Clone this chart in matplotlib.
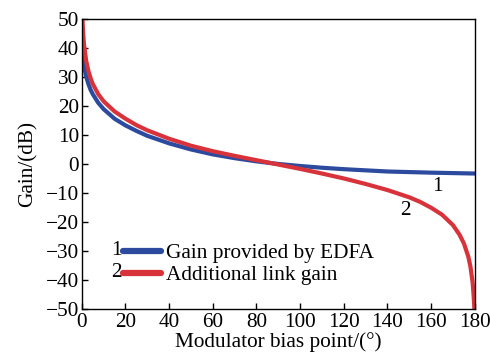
import matplotlib
matplotlib.use("Agg")
import matplotlib.pyplot as plt

plt.rcParams['font.family'] = ['Liberation Serif', 'DejaVu Serif']
plt.rcParams['mathtext.fontset'] = 'stix'

# values
bias_red = [0.3, 0.6, 1, 2, 3, 4, 5, 7.5, 10, 15, 20, 25, 30, 40, 50, 60, 70, 80, 90,
            100, 110, 120, 130, 140, 150, 155, 160, 165, 170, 173, 175, 177, 178, 179,
            179.5, 179.8]
link_gain = [50, 45, 41, 35.5, 32, 29.5, 27.5, 24, 21.5, 18, 15.5, 13.3, 11.5, 8.6, 6.2,
             4.3, 2.7, 1.2, -0.3, -1.8, -3.4, -5.1, -7.0, -9.1, -11.6, -13.2, -15.2,
             -17.6, -21.2, -24.5, -27.5, -32, -35.5, -41, -46, -50]

bias_blue = [0.3, 0.6, 1, 2, 3, 4, 5, 7.5, 10, 15, 20, 25, 30, 40, 50, 60, 70, 80, 90,
             100, 110, 120, 130, 140, 150, 160, 170, 180]
edfa_gain = [38, 35.5, 33.5, 30, 27.5, 25.5, 24, 21, 18.8, 15.5, 13.2, 11.3, 9.6, 7.0,
             4.9, 3.2, 1.9, 0.8, -0.1, -0.8, -1.4, -1.9, -2.3, -2.7, -2.9, -3.1, -3.25,
             -3.4]

xticks = list(range(0, 181, 20))
yticks = list(range(-50, 51, 10))

blue = '#2c4b9f'
red = '#d8333b'
fs = 15.3

fig = plt.figure(figsize=(4.9, 3.56), dpi=100)
ax = fig.add_axes([0.167, 0.133, 0.802, 0.8145])

l1, = ax.plot(bias_blue, edfa_gain, color=blue, lw=3.0, solid_capstyle='round')
l2, = ax.plot(bias_red, link_gain, color=red, lw=3.0, solid_capstyle='round')

ax.set_xlim(0, 180)
ax.set_ylim(-50, 50)
ax.set_xticks(xticks)
ax.set_yticks(yticks)
ax.set_yticklabels([str(v).replace('-', '\u2212') for v in yticks])
ax.tick_params(direction='in', length=4, width=1, labelsize=fs, pad=2,
               top=False, right=False)
ax.tick_params(axis='x', pad=3)
for s in ax.spines.values():
    s.set_linewidth(1)

ax.set_xlabel('Modulator bias point/(°)', fontsize=fs, labelpad=0)
ax.set_ylabel('Gain/(dB)', fontsize=fs, labelpad=6)

leg = ax.legend([l1, l2], ['Gain provided by EDFA', 'Additional link gain'],
                loc='upper left', bbox_to_anchor=(0.105, 0.225), frameon=False,
                fontsize=fs, handlelength=1.8, handletextpad=0.2,
                labelspacing=0.1, borderaxespad=0, borderpad=0)
for h in leg.legend_handles:
    h.set_linewidth(4.5)
ax.text(0.088, 0.200, '1', transform=ax.transAxes, fontsize=fs,
        ha='center', va='center')
ax.text(0.088, 0.125, '2', transform=ax.transAxes, fontsize=fs,
        ha='center', va='center')

# curve labels
ax.text(163, -8, '1', fontsize=fs, ha='center', va='center')
ax.text(148, -16, '2', fontsize=fs, ha='center', va='center')

fig.savefig('out.png', dpi=100)
